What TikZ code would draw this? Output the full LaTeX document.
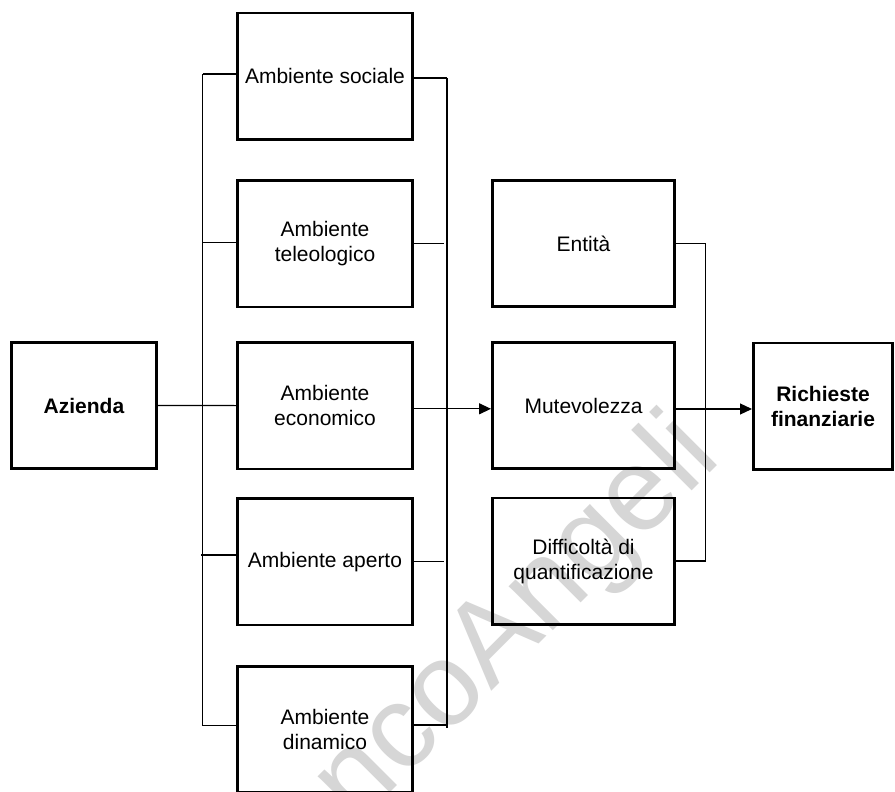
\documentclass[tikz,border=0pt]{standalone}
\usepackage{fontspec}
\setmainfont{Liberation Sans}[Ligatures=NoCommon]
\usetikzlibrary{arrows.meta}
\begin{document}
\begin{tikzpicture}[x=1pt,y=-1pt,
  box/.style={draw=black, line width=2.6pt, minimum height=126.4pt, inner sep=2pt,
    align=center, font=\fontsize{21}{25}\selectfont},
  colA/.style={box, minimum width=175.4pt},
  colB/.style={box, minimum width=182.4pt},
  endbox/.style={box, font=\fontsize{21}{25}\selectfont\bfseries},
  link/.style={line width=1.2pt},
  flow/.style={link, -{Triangle[length=12pt,width=11pt]}},
  stamp/.style={text=black!16, font=\fontsize{118}{126}\selectfont, rotate=45, inner sep=0pt}
]
\fill[white] (0,0) rectangle (895,792);
\useasboundingbox (0,0) rectangle (895,792);
\clip (0,0) rectangle (895,792);

% publisher stamp behind the chart
\node[stamp] (wm) at (456,684) {FrancoAngeli};

% boxes
\node[endbox, minimum width=145.4pt] (az) at (84,405.5) {Azienda};
\node[colA] (soc) at (325,76.2)  {Ambiente sociale};
\node[colA] (tel) at (325,243.8) {Ambiente\\teleologico};
\node[colA] (eco) at (325,405.6) {Ambiente\\economico};
\node[colA] (ape) at (325,561.7) {Ambiente aperto};
\node[colA] (din) at (325,729.5) {Ambiente\\dinamico};
\node[colB] (ent) at (583.5,243.5) {Entità};
\node[colB] (mut) at (583.5,405.5) {Mutevolezza};
\node[colB] (dif) at (583.5,561)   {Difficoltà di\\quantificazione};
\node[endbox, minimum width=139.4pt] (ric) at (823,406) {Richieste\\finanziarie};

% bus lines
\coordinate (lb1) at (202.5,74);  \coordinate (lb2) at (202.5,726);
\coordinate (rb1) at (447,78);    \coordinate (rb2) at (447,728);
\coordinate (qb1) at (705.7,243.7); \coordinate (qb2) at (705.7,561);
\draw[link] (lb1) -- (lb2);
\draw[link] (rb1) -- (rb2);
\draw[link] (qb1) -- (qb2);

% left stubs
\coordinate (ls1) at ([yshift=2.2pt]soc.west);
\coordinate (ls2) at ([yshift=1.5pt]tel.west);
\coordinate (ls4) at ([yshift=6.7pt]ape.west);
\coordinate (ls5) at ([yshift=3.8pt]din.west);
\draw[link] (ls1) -- (ls1 -| lb1);
\draw[link] (ls2) -- (ls2 -| lb1);
\draw[link] (ls4) -- ([xshift=-2pt]ls4 -| lb1);
\draw[link] (ls5) -- (ls5 -| lb1);
\draw[link] (az.east) -- (eco.west);

% right stubs
\coordinate (rs1) at ([yshift=-1.8pt]soc.east);
\coordinate (rs2) at (tel.east);
\coordinate (rs4) at (ape.east);
\coordinate (rs5) at ([yshift=4.5pt]din.east);
\draw[link] (rs1) -- (rs1 -| rb1);
\draw[link] (rs2) -- ([xshift=-3pt]rs2 -| rb1);
\draw[link] (rs4) -- ([xshift=-3pt]rs4 -| rb1);
\draw[link] (rs5) -- (rs5 -| rb1);

\coordinate (e1) at ([yshift=-3.2pt]eco.east);
\draw[flow] (e1) -- (e1 -| mut.west);

% second column outputs
\draw[link] (ent.east) -- (ent.east -| qb1);
\draw[link] (dif.east) -- (dif.east -| qb1);
\coordinate (m1) at ([yshift=-3.5pt]mut.east);
\draw[flow] (m1) -- (m1 -| ric.west);
\end{tikzpicture}
\end{document}
